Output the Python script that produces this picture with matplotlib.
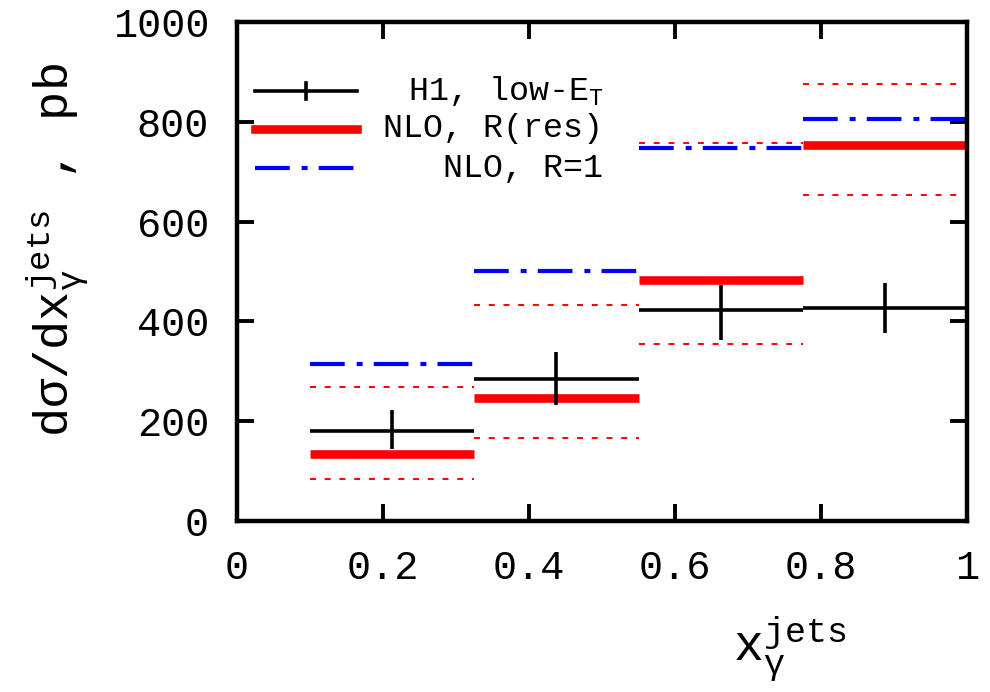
import numpy as np
import matplotlib
matplotlib.use('Agg')
from matplotlib import pyplot as plt

plt.rcParams['font.family'] = ['Liberation Mono', 'DejaVu Sans']
plt.rcParams['mathtext.fontset'] = 'custom'
plt.rcParams['mathtext.rm'] = 'Liberation Mono'
plt.rcParams['mathtext.it'] = 'Liberation Mono'
plt.rcParams['mathtext.bf'] = 'Liberation Mono:bold'
plt.rcParams['lines.scale_dashes'] = False

# x_gamma bins
bin_lo = [0.1, 0.325, 0.55, 0.775]
bin_hi = [0.325, 0.55, 0.775, 1.0]

# H1 low-E_T data
h1 = [180, 285, 422, 426]
h1_err_up = [42, 54, 51, 50]
h1_err_dn = [36, 53, 59, 49]

# NLO, R(res) with scale band
nlo_res = [135, 246, 482, 753]
nlo_res_up = [268, 433, 758, 876]
nlo_res_dn = [85, 166, 354, 653]

# NLO, R=1
nlo_r1 = [315, 502, 748, 806]

lo = np.array(bin_lo)
hi = np.array(bin_hi)
xc = (lo + hi) / 2
hw = (hi - lo) / 2

fig = plt.figure(figsize=(9.9, 6.92), dpi=100)
ax = fig.add_axes([237/990, 1 - 521/692, 730/990, 499/692])

dot = (0, (4.3, 6.3))
dashdot = (0, (25, 8.6, 4.3, 8))

ax.hlines(nlo_res_up, lo, hi, colors='red', lw=1.4, linestyles=[dot])
ax.hlines(nlo_res_dn, lo, hi, colors='red', lw=1.4, linestyles=[dot])
ax.hlines(nlo_res, lo, hi, colors='red', lw=6.2)
ax.hlines(nlo_r1, lo, hi, colors='blue', lw=3.0, linestyles=[dashdot])
ax.errorbar(xc, h1, xerr=hw, yerr=[h1_err_dn, h1_err_up], fmt='none',
            ecolor='black', elinewidth=2.6, capsize=0, zorder=5)

# legend, gnuplot style: sample on the left, text right-aligned
lx = [0.0247, 0.164]
ly = [0.862, 0.786, 0.707]
tx = 0.502
ax.plot(lx, [ly[0]] * 2, color='black', lw=2.6, transform=ax.transAxes)
ax.plot([np.mean(lx)] * 2, [ly[0] - 0.016, ly[0] + 0.016], color='black', lw=2.6,
        transform=ax.transAxes)
ax.plot(lx, [ly[1]] * 2, color='red', lw=6.2, transform=ax.transAxes)
ax.plot(lx, [ly[2]] * 2, color='blue', lw=3.0, ls=dashdot, transform=ax.transAxes)
ax.text(tx, ly[0], r'H1, low-E$_{\rm T}$', ha='right', va='center', fontsize=24,
        transform=ax.transAxes)
ax.text(tx, ly[1], 'NLO, R(res)', ha='right', va='center', fontsize=24,
        transform=ax.transAxes)
ax.text(tx, ly[2], 'NLO, R=1', ha='right', va='center', fontsize=24,
        transform=ax.transAxes)

ax.set_xlim(0, 1)
ax.set_ylim(0, 1000)
ax.set_xticks([0, 0.2, 0.4, 0.6, 0.8, 1.0])
ax.set_xticklabels(['0', '0.2', '0.4', '0.6', '0.8', '1'])
ax.set_yticks(np.arange(0, 1001, 200))
ax.tick_params(direction='in', length=12, width=2.8, top=True, right=True,
               labelsize=29, pad=20)
for s in ax.spines.values():
    s.set_linewidth(3.2)

fig.text(58/990, 1 - 250/692, r'd$\sigma$/dx$_{\gamma}^{\rm jets}$ , pb', rotation=90,
         ha='center', va='center', fontsize=35)
fig.text(790/990, 1 - 650/692, r'x$_{\gamma}^{\rm jets}$', ha='center', va='center',
         fontsize=36)

fig.savefig('out.png', dpi=100)
